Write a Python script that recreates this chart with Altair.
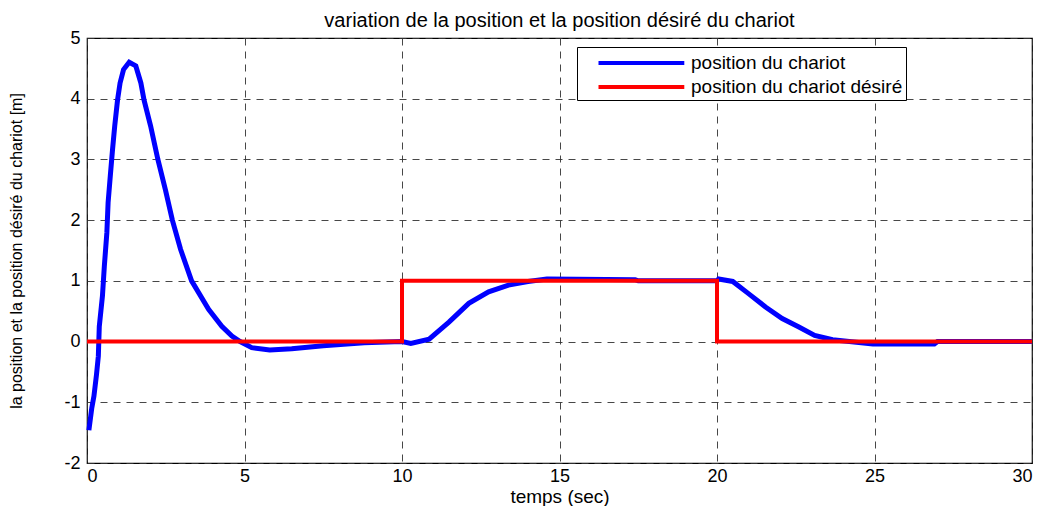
import altair as alt
import pandas as pd

# blue: position du chariot
t_blue = [0.06, 0.15, 0.22, 0.30, 0.36, 0.39, 0.49, 0.55, 0.63, 0.67, 0.74, 0.81, 0.88, 0.97,
          1.05, 1.16, 1.34, 1.55, 1.71, 1.81, 2.02, 2.25, 2.49, 2.71, 2.97, 3.32, 3.86, 4.28,
          4.60, 4.86, 5.23, 5.80, 6.50, 7.50, 8.80, 10.00, 10.28, 10.86, 11.49, 12.12, 12.75,
          13.38, 14.00, 14.60, 17.40, 17.50, 20.00, 20.05, 20.50, 21.00, 21.54, 22.07, 22.60,
          23.10, 23.67, 24.20, 24.95, 26.90, 27.00, 30.00]
y_blue = [-1.46, -1.10, -0.90, -0.55, -0.24, 0.25, 0.75, 1.24, 1.79, 2.29, 2.73, 3.16, 3.55, 3.98,
          4.26, 4.48, 4.60, 4.54, 4.26, 3.98, 3.55, 3.00, 2.50, 2.00, 1.52, 1.00, 0.53, 0.25,
          0.09, 0.00, -0.10, -0.14, -0.12, -0.07, -0.02, 0.00, -0.03, 0.04, 0.32, 0.63, 0.82,
          0.93, 0.99, 1.03, 1.02, 1.00, 1.00, 1.03, 0.99, 0.79, 0.57, 0.38, 0.24,
          0.10, 0.03, 0.00, -0.04, -0.04, 0.00, 0.00]

# red: position du chariot désiré
t_red = [0, 10, 10, 20, 20, 30]
y_red = [0, 0, 1, 1, 0, 0]

series_names = ["position du chariot", "position du chariot désiré"]
series_colors = ["#0000ff", "#ff0000"]

df_blue = pd.DataFrame({"t": t_blue, "y": y_blue, "serie": series_names[0], "i": range(len(t_blue))})
df_red = pd.DataFrame({"t": t_red, "y": y_red, "serie": series_names[1], "i": range(len(t_red))})

FONT = "Liberation Sans"

x_enc = alt.X("t:Q", scale=alt.Scale(domain=[0, 30], nice=False, zero=False),
              axis=alt.Axis(values=list(range(0, 31, 5)), title="temps (sec)",
                            labelPadding=4, titlePadding=2, labelExpr="'' + datum.value"))
y_enc = alt.Y("y:Q", scale=alt.Scale(domain=[-2, 5], nice=False, zero=False),
              axis=alt.Axis(values=list(range(-2, 6)),
                            title="la position et la position désiré du chariot [m]",
                            titleFontSize=16, labelPadding=7, titlePadding=39,
                            labelExpr="'' + datum.value"))
color_enc = alt.Color("serie:N",
                      scale=alt.Scale(domain=series_names, range=series_colors),
                      legend=alt.Legend(title=None, orient="none", legendX=490, legendY=9,
                                        symbolType="M0.5,0H8.3", symbolSize=484,
                                        symbolStrokeWidth=4, labelOffset=85,
                                        labelFontSize=19, labelFont=FONT, labelLimit=500,
                                        padding=3, rowPadding=1,
                                        strokeColor="black", fillColor="white"))

blue = alt.Chart(df_blue).mark_line(strokeWidth=5).encode(
    x=x_enc, y=y_enc, color=color_enc, order="i:Q")
red = alt.Chart(df_red).mark_line(strokeWidth=4).encode(
    x=x_enc, y=y_enc, color=color_enc, order="i:Q")

chart = alt.layer(blue, red).properties(
    width=945, height=425,
    padding={"top": 3, "left": 0, "right": 0, "bottom": 0},
    title=alt.TitleParams("variation de la position et la position désiré du chariot",
                          fontSize=20, font=FONT, fontWeight="normal", anchor="middle",
                          offset=-2, color="black"),
    background="white",
).configure_view(stroke="black", strokeWidth=1.2).configure_axis(
    labelFont=FONT, labelFontSize=18, labelColor="black",
    titleFont=FONT, titleFontSize=19, titleFontWeight="normal", titleColor="black",
    grid=True, gridColor="#333333", gridDash=[7, 6], gridWidth=1, gridOpacity=0.9,
    domain=False, ticks=False,
)

chart.save("out.html", embed_options={"renderer": "svg", "actions": False})
